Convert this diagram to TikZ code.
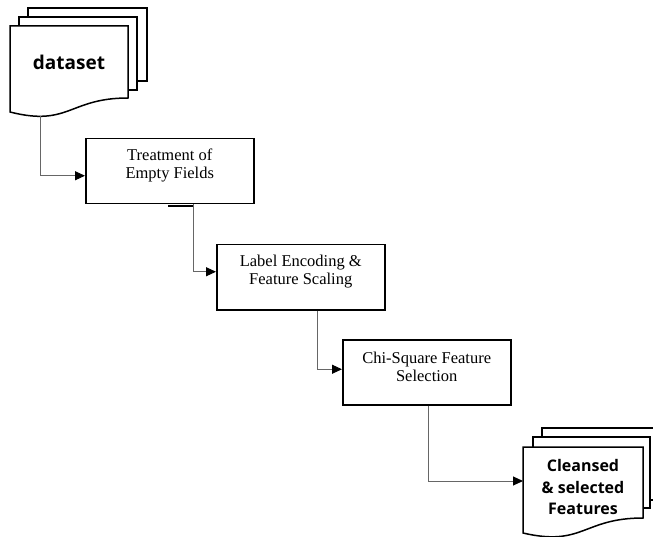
\documentclass[tikz,border=0pt]{standalone}
\usepackage{fontspec}
\setmainfont{Liberation Serif}
\newfontfamily\docfont{Open Sans}
\usetikzlibrary{arrows.meta}
\tikzset{
  procbox/.style={draw=black, line width=1.5pt, minimum width=168pt, minimum height=65pt,
    inner sep=0pt, anchor=north west},
  boxtext/.style={inner sep=0pt, align=center, font=\fontsize{16.5}{18}\selectfont},
  sheet/.style={draw=black, line width=1.5pt, fill=white, line join=miter},
  conn/.style={draw=black!60, line width=1pt, -{Triangle[length=10pt,width=9pt,color=black]}},
  doctext/.style={align=center, inner sep=0pt}
}
\begin{document}
\begin{tikzpicture}[x=1pt,y=-1pt]
\useasboundingbox (0,0) rectangle (653,537);
% input document stack
\draw[sheet] (28,8) rectangle (147,81);
\draw[sheet] (19,17) rectangle (137,90);
\draw[sheet] (10,26) -- (128,26) -- (128,98) .. controls (69,98) and (69,127) .. (10,112) -- cycle;
\node[doctext, font=\docfont\bfseries\fontsize{19}{22}\selectfont] (ds) at (69,62) {dataset};
\coordinate (dsout) at (40,116);
% output document stack
\draw[sheet] (542,428) -- (660,428) -- (660,500) -- (542,500) -- cycle;
\draw[sheet] (533,437) rectangle (650,508);
\draw[sheet] (523,447) -- (643,447) -- (643,518) .. controls (583,518) and (583,547) .. (523,533) -- cycle;
\node[doctext, font=\docfont\bfseries\fontsize{16}{21.5}\selectfont] (out) at (583,487) {Cleansed\\\& selected\\Features};
\coordinate (outin) at (523,481);
% process boxes
\node[procbox] (b1) at (85,138) {};
\node[procbox] (b2) at (216,244) {};
\node[procbox] (b3) at (342,339) {};
\node[boxtext] (t1) at ([yshift=5.5pt]b1.center) {Treatment of\\Empty Fields};
\node[boxtext] (t2) at ([yshift=5.5pt]b2.center) {Label Encoding \&\\Feature Scaling};
\node[boxtext] (t3) at ([yshift=5pt]b3.center) {Chi-Square Feature\\Selection};
\draw[line width=2pt] ([xshift=-1.5pt,yshift=-1.5pt]b1.south) -- ([xshift=24pt,yshift=-1.5pt]b1.south);
% connectors
\draw[conn] (dsout) |- ([yshift=-4.5pt]b1.west);
\draw[conn] ([xshift=24pt]b1.south) |- ([yshift=5.5pt]b2.west);
\draw[conn] ([xshift=17pt]b2.south) |- ([yshift=3pt]b3.west);
\draw[conn] ([xshift=2pt]b3.south) |- (outin);
\end{tikzpicture}
\end{document}
